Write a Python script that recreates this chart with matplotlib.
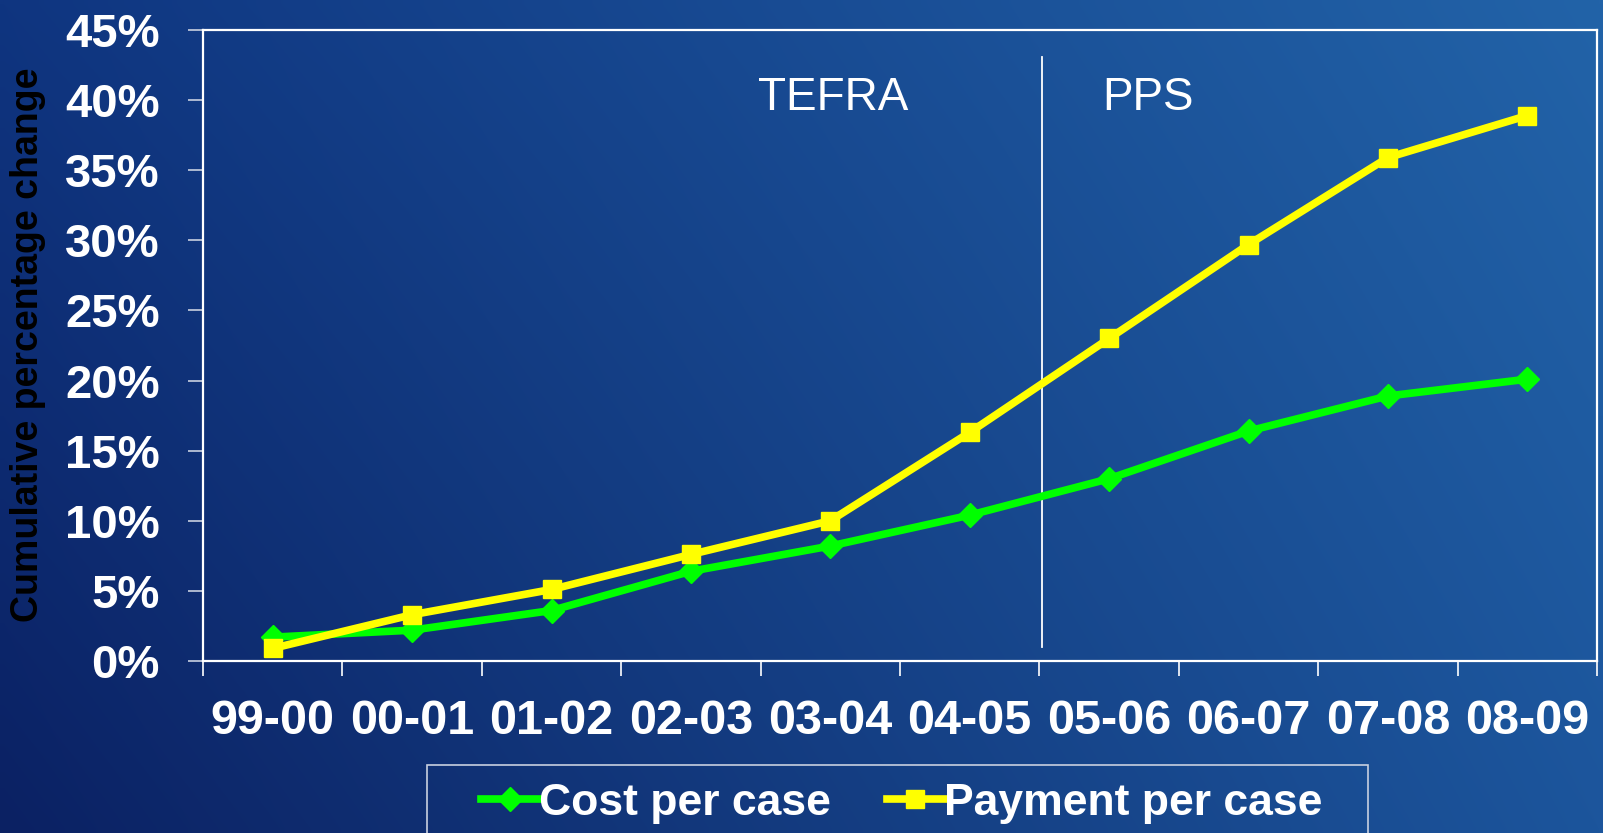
import numpy as np
import matplotlib
matplotlib.use("Agg")
import matplotlib.pyplot as plt
from matplotlib.colors import to_rgb
from matplotlib.patches import Rectangle

categories = ["99-00", "00-01", "01-02", "02-03", "03-04", "04-05",
              "05-06", "06-07", "07-08", "08-09"]
cost_per_case = [1.7, 2.2, 3.6, 6.4, 8.2, 10.4, 13.0, 16.4, 18.9, 20.1]
payment_per_case = [0.9, 3.3, 5.1, 7.6, 10.0, 16.3, 23.0, 29.7, 35.9, 38.9]
y_ticks = [0, 5, 10, 15, 20, 25, 30, 35, 40, 45]
y_tick_labels = [f"{v}%" for v in y_ticks]

W, H, DPI = 1603, 833, 100
fig = plt.figure(figsize=(W / DPI, H / DPI), dpi=DPI)

# background gradient
bg = fig.add_axes([0, 0, 1, 1], zorder=-10)
bg.set_axis_off()
tl, tr = np.array(to_rgb("#0f3580")), np.array(to_rgb("#2263a8"))
bl, br = np.array(to_rgb("#0b2163")), np.array(to_rgb("#1c559c"))
u = np.linspace(0, 1, 200)[None, :, None]
v = np.linspace(0, 1, 100)[:, None, None]
top = tl * (1 - u) + tr * u
bot = bl * (1 - u) + br * u
img = top * (1 - v) + bot * v
bg.imshow(img, aspect="auto", extent=[0, 1, 0, 1], interpolation="bilinear")
bg.set_xlim(0, 1)
bg.set_ylim(0, 1)

left, right = 203 / W, 1597 / W
bottom, topp = 1 - 661 / H, 1 - 30 / H
ax = fig.add_axes([left, bottom, right - left, topp - bottom])
ax.set_facecolor("none")

x = np.arange(len(categories))
ax.plot(x, cost_per_case, color="#00ff00", lw=5.5, marker="D", ms=12.5,
        label="Cost per case", zorder=3)
ax.plot(x, payment_per_case, color="#ffff00", lw=5.5, marker="s", ms=13.5,
        label="Payment per case", zorder=4)

ax.set_xlim(-0.5, len(categories) - 0.5)
ax.set_ylim(0, 45)

# separator and period labels
ax.plot([5.52, 5.52], [1.0, 43.1], color="white", lw=1.3, zorder=2)
ax.text(4.02, 40.15, "TEFRA", color="white", fontsize=33,
        family="Liberation Sans", ha="center", va="center")
ax.text(6.28, 40.15, "PPS", color="white", fontsize=33,
        family="Liberation Sans", ha="center", va="center")

for s in ax.spines.values():
    s.set_color("white")
    s.set_linewidth(1.6)

ax.set_yticks(y_ticks)
ax.set_yticklabels(y_tick_labels)
ax.tick_params(axis="y", direction="out", length=11, width=1.2, color="#c8d0e0",
               pad=20, labelsize=34, labelcolor="white")
for lab in ax.get_yticklabels():
    lab.set_fontweight("bold")
    lab.set_family("Liberation Sans")

ax.set_xticks(np.arange(-0.5, len(categories)), minor=False)
ax.set_xticklabels([])
ax.set_xticks(x, minor=True)
ax.set_xticklabels(categories, minor=True)
ax.tick_params(axis="x", which="major", direction="out", length=11, width=1.2,
               color="white")
ax.tick_params(axis="x", which="minor", length=0, pad=27, labelsize=35,
               labelcolor="white")
for lab in ax.get_xticklabels(minor=True):
    lab.set_fontweight("bold")
    lab.set_family("Liberation Sans")

fig.text(28 / W, 1 - 345 / H, "Cumulative percentage change", rotation=90,
         color="black", fontsize=27, fontweight="bold", family="Liberation Sans",
         ha="center", va="center")

# legend frame (drawn manually, runs off the bottom edge)
fig.add_artist(Rectangle((427 / W, -0.05), (1368 - 427) / W, 0.05 + 1 - 765 / H,
                         transform=fig.transFigure, facecolor="none",
                         edgecolor="#c8d0e0", lw=1.2))
leg = ax.legend(loc="center", bbox_to_anchor=(902 / W, 1 - 803 / H),
                bbox_transform=fig.transFigure, ncol=2, frameon=False,
                prop={"family": "Liberation Sans", "weight": "bold", "size": 32},
                handlelength=1.3, handletextpad=0.0, columnspacing=1.25,
                borderpad=0, borderaxespad=0, markerscale=1.0)
for t in leg.get_texts():
    t.set_color("white")

fig.savefig("out.png", dpi=DPI)
